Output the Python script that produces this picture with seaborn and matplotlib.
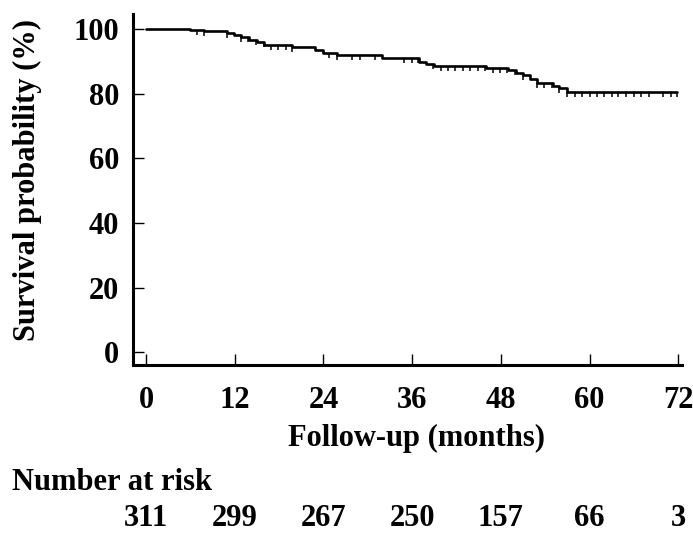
import numpy as np
import pandas as pd
import seaborn as sns
import matplotlib.pyplot as plt

# Kaplan-Meier curve
event_months = [0, 6.0, 7.8, 10.9, 11.9, 12.9, 13.9, 15.0, 16.0, 19.8, 22.9, 23.9, 25.8,
                31.9, 36.9, 37.9, 39.0, 46.0, 49.0, 50.1, 51.0, 52.0, 52.9, 55.0, 55.9, 56.9]
survival_pct = [100, 99.8, 99.3, 98.8, 98.1, 97.4, 96.6, 95.9, 95.2, 94.3, 93.5, 92.7, 92.0,
                90.9, 89.9, 89.2, 88.6, 88.0, 87.3, 86.5, 85.8, 84.4, 83.4, 82.4, 81.6, 80.4]
last_followup = 71.9

# censored observations (tick marks)
censor_months = [6.9, 7.8, 10.9, 12.9, 13.8, 14.9, 15.9, 16.9, 17.9, 18.9, 19.8, 24.8, 25.8,
                 27.8, 28.9, 31.0, 34.9, 36.0, 36.8, 38.8, 39.9, 40.8, 41.8, 42.9, 43.8, 44.9,
                 45.9, 47.0, 47.9, 48.8, 49.9, 51.0, 52.9, 53.9, 54.9, 55.9, 57.0, 58.0, 59.0,
                 60.0, 61.0, 62.0, 63.0, 63.9, 64.9, 66.0, 67.0, 68.0, 70.0, 71.0, 71.8]

risk_months = [0, 12, 24, 36, 48, 60, 72]
number_at_risk = [311, 299, 267, 250, 157, 66, 3]

sns.set_theme(style="ticks")
plt.rcParams['font.family'] = ['Liberation Serif', 'DejaVu Serif']
plt.rcParams['font.weight'] = 'bold'
for k in ['text.color', 'axes.labelcolor', 'xtick.color', 'ytick.color', 'axes.edgecolor']:
    plt.rcParams[k] = 'black'

fs = 22

fig = plt.figure(figsize=(6.93, 5.33), dpi=100)
ax = fig.add_axes([0.192, 0.315, 0.792, 0.6585])

df = pd.DataFrame({'month': event_months + [last_followup],
                   'surv': survival_pct + [survival_pct[-1]]})
sns.lineplot(data=df, x='month', y='surv', drawstyle='steps-post', color='black',
             linewidth=1.9, estimator=None, ax=ax)

# censor marks hang down from the curve
idx = np.searchsorted(event_months, censor_months, side='right') - 1
censor_surv = np.array(survival_pct)[idx]
ax.plot(censor_months, censor_surv, ls='none', marker=3, ms=3.8, mew=1.1, color='black')

ax.set_xlim(-1.76, 72.5)
ax.set_ylim(-4.0, 104.6)
ax.set_xticks(risk_months)
ax.set_yticks([0, 20, 40, 60, 80, 100])
ax.tick_params(direction='in', length=8, width=1, colors='black', labelsize=fs)
ax.tick_params(axis='x', pad=15)
ax.tick_params(axis='y', pad=10)
for lab in ax.get_xticklabels() + ax.get_yticklabels():
    lab.set_fontweight('bold')

sns.despine(ax=ax)
for s in ['left', 'bottom']:
    ax.spines[s].set_linewidth(2.2)
    ax.spines[s].set_color('black')

ax.set_xlabel('Follow-up (months)', fontsize=fs, fontweight='bold', va='center')
ax.xaxis.set_label_coords(0.517, -0.208)
ax.set_ylabel('Survival probability (%)', fontsize=fs, fontweight='bold', va='center')
ax.yaxis.set_label_coords(-0.193, 0.527)

# number at risk table
fig.text(12 / 693, 1 - 482 / 533, 'Number at risk', fontsize=fs, fontweight='bold',
         ha='left', va='center')
trans = ax.get_xaxis_transform()
for m, n in zip(risk_months, number_at_risk):
    ax.text(m, (365 - 518) / 351, str(n), transform=trans, fontsize=fs,
            fontweight='bold', ha='center', va='center', clip_on=False)

fig.savefig('out.png', dpi=100)
